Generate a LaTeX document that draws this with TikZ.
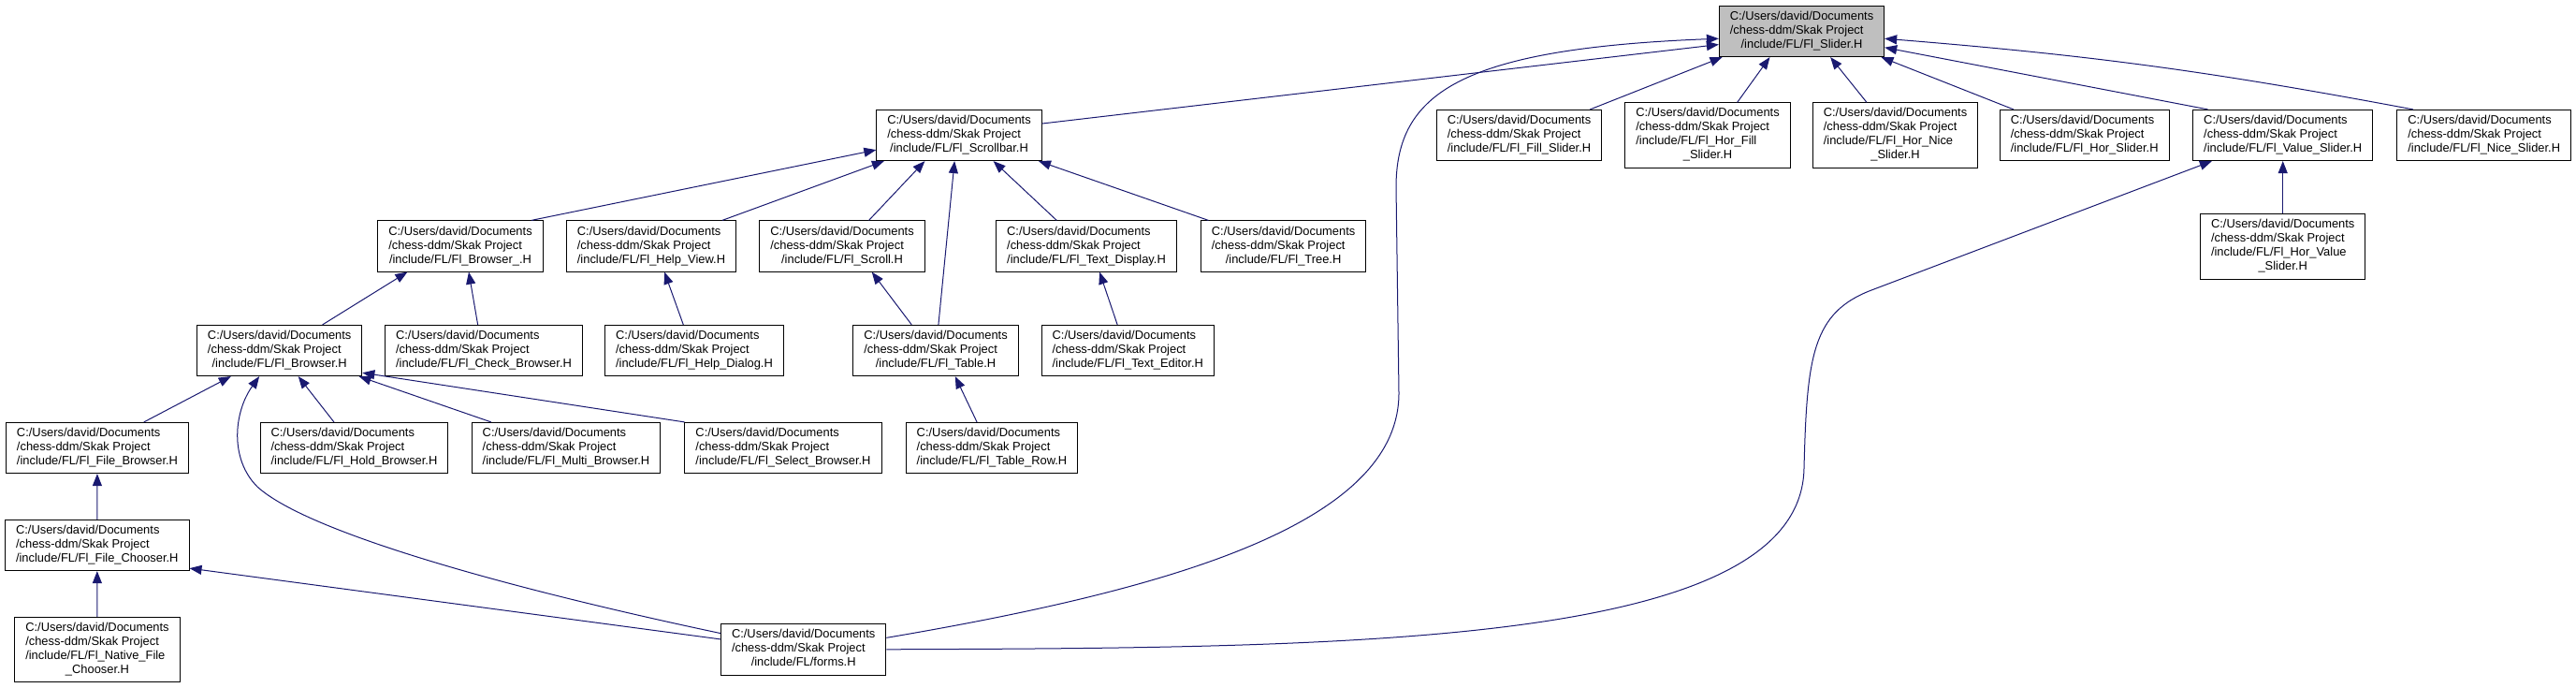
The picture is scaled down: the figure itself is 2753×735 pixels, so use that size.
\documentclass[tikz,border=0pt]{standalone}
\usepackage{fontspec}
\setmainfont{Liberation Sans}
\usepackage{tikz}
\usetikzlibrary{arrows.meta}
\definecolor{navy}{RGB}{25,25,112}
\definecolor{curgray}{RGB}{191,191,191}
\newcommand{\incfile}[1]{\begin{tabular}{@{}l@{}}C:/Users/david/Documents\\/chess-ddm/Skak Project\\\multicolumn{1}{@{}c@{}}{#1}\end{tabular}}
\newcommand{\incfilex}[2]{\begin{tabular}{@{}l@{}}C:/Users/david/Documents\\/chess-ddm/Skak Project\\#1\\\multicolumn{1}{@{}c@{}}{#2}\end{tabular}}

\begin{document}
\begin{tikzpicture}[x=1pt, y=-1pt,
        hdr/.style={draw=black, fill=white, line width=0.9pt, inner xsep=11.5pt, inner ysep=4.65pt,
            font=\fontsize{12.9}{15}\selectfont},
        hdrcur/.style={hdr, fill=curgray},
        incl/.style={navy, line width=1pt, -{Triangle[length=13pt,width=10pt]}}]
        \useasboundingbox (0,0) rectangle (2753,735);

        \node[hdrcur] (slider) at (1925.5,33.5) {\incfile{/include/FL/Fl\_Slider.H}};

        \node[hdr] (scrollbar) at (1025,144.5) {\incfile{/include/FL/Fl\_Scrollbar.H}};
        \node[hdr] (fillslider) at (1623.5,144.5) {\incfile{/include/FL/Fl\_Fill\_Slider.H}};
        \node[hdr] (horfill) at (1825,144.5) {\incfilex{/include/FL/Fl\_Hor\_Fill}{\_Slider.H}};
        \node[hdr] (hornice) at (2025.5,144.5) {\incfilex{/include/FL/Fl\_Hor\_Nice}{\_Slider.H}};
        \node[hdr] (horslider) at (2227.7,144.5) {\incfile{/include/FL/Fl\_Hor\_Slider.H}};
        \node[hdr] (valueslider) at (2439.7,144.5) {\incfile{/include/FL/Fl\_Value\_Slider.H}};
        \node[hdr] (niceslider) at (2654.7,144.5) {\incfile{/include/FL/Fl\_Nice\_Slider.H}};

        \node[hdr] (browserbase) at (492,263) {\incfile{/include/FL/Fl\_Browser\_.H}};
        \node[hdr] (helpview) at (696,263) {\incfile{/include/FL/Fl\_Help\_View.H}};
        \node[hdr] (scroll) at (900,263) {\incfile{/include/FL/Fl\_Scroll.H}};
        \node[hdr] (textdisplay) at (1161,263) {\incfile{/include/FL/Fl\_Text\_Display.H}};
        \node[hdr] (tree) at (1371.6,263) {\incfile{/include/FL/Fl\_Tree.H}};
        \node[hdr] (horvalue) at (2439.7,263.3) {\incfilex{/include/FL/Fl\_Hor\_Value}{\_Slider.H}};

        \node[hdr] (browser) at (298.7,374.5) {\incfile{/include/FL/Fl\_Browser.H}};
        \node[hdr] (checkbrowser) at (517,374.5) {\incfile{/include/FL/Fl\_Check\_Browser.H}};
        \node[hdr] (helpdialog) at (742,374.5) {\incfile{/include/FL/Fl\_Help\_Dialog.H}};
        \node[hdr] (table) at (1000,374.5) {\incfile{/include/FL/Fl\_Table.H}};
        \node[hdr] (texteditor) at (1205.3,374.5) {\incfile{/include/FL/Fl\_Text\_Editor.H}};

        \node[hdr] (filebrowser) at (104,478.5) {\incfile{/include/FL/Fl\_File\_Browser.H}};
        \node[hdr] (holdbrowser) at (378.5,478.5) {\incfile{/include/FL/Fl\_Hold\_Browser.H}};
        \node[hdr] (multibrowser) at (605,478.5) {\incfile{/include/FL/Fl\_Multi\_Browser.H}};
        \node[hdr] (selectbrowser) at (837,478.5) {\incfile{/include/FL/Fl\_Select\_Browser.H}};
        \node[hdr] (tablerow) at (1060,478.5) {\incfile{/include/FL/Fl\_Table\_Row.H}};

        \node[hdr] (filechooser) at (103.8,582.5) {\incfile{/include/FL/Fl\_File\_Chooser.H}};
        \node[hdr] (nativechooser) at (104,694) {\incfilex{/include/FL/Fl\_Native\_File}{\_Chooser.H}};
        \node[hdr] (forms) at (858.7,693.8) {\incfile{/include/FL/forms.H}};

        \draw[incl] (scrollbar.8) -- (slider.189);
        \draw[incl] (fillslider.20.5) -- (slider.198);
        \draw[incl] (horfill.48) -- (slider.219);
        \draw[incl] (hornice.131) -- (slider.-42);
        \draw[incl] (horslider.160) -- (slider.-18);
        \draw[incl] (valueslider.161) -- (slider.-11);
        \draw[incl] (niceslider.160) to[bend right=3] (slider.-5.5);
        \draw[incl] (forms.8) .. controls (1250,630) and (1495,560) .. (1495,420)
            -- (1492,200) .. controls (1492,100) and (1560,52) .. (slider.185);

        \draw[incl] (browserbase.20) -- (scrollbar.190);
        \draw[incl] (helpview.20) -- (scrollbar.199);
        \draw[incl] (scroll.44) -- (scrollbar.217);
        \draw[incl] (table.84) -- (scrollbar.260);
        \draw[incl] (textdisplay.139) -- (scrollbar.-37);
        \draw[incl] (tree.161) -- (scrollbar.-18);

        \draw[incl] (browser.31) -- (browserbase.206);
        \draw[incl] (checkbrowser.103) -- (browserbase.-72);
        \draw[incl] (helpdialog.113) -- (helpview.-63);
        \draw[incl] (table.133) -- (scroll.-41);
        \draw[incl] (texteditor.112) -- (textdisplay.-63);
        \draw[incl] (tablerow.120) -- (table.-53);

        \draw[incl] (filebrowser.29) -- (browser.208);
        \draw[incl] (holdbrowser.128) -- (browser.-54);
        \draw[incl] (multibrowser.161) -- (browser.-18);
        \draw[incl] (selectbrowser.north west) -- (browser.-15);
        \draw[incl] (forms.169) .. controls (550,630) and (330,570) .. (275,520)
            .. controls (245,490) and (250,440) .. (browser.232);

        \draw[incl] (filechooser) -- (filebrowser);
        \draw[incl] (nativechooser) -- (filechooser);
        \draw[incl] (forms.173) -- (filechooser.-14);
        \draw[incl] (horvalue) -- (valueslider);
        \draw[incl] (forms.east) .. controls (1450,692) and (1925,690) .. (1928,500)
            .. controls (1931,380) and (1937,334) .. (2000,310) -- (valueslider.200);
\end{tikzpicture}
\end{document}
